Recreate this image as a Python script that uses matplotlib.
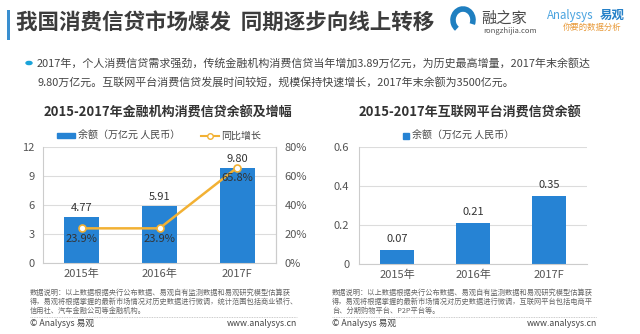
import matplotlib.pyplot as plt
from matplotlib.patches import Rectangle, Arc
from matplotlib.lines import Line2D

plt.rcParams["font.family"] = ["Noto Sans CJK SC", "DejaVu Sans"]

W, H = 640, 334

# data
years = ["2015年", "2016年", "2017F"]
bank_balance = [4.77, 5.91, 9.80]          # 万亿元
bank_growth = [23.9, 23.9, 65.8]           # %
web_balance = [0.07, 0.21, 0.35]           # 万亿元

left_yticks = [0, 3, 6, 9, 12]
right_pct_ticks = [0, 20, 40, 60, 80]
web_yticks = [0, 0.2, 0.4, 0.6]

title = "我国消费信贷市场爆发  同期逐步向线上转移"
bullet_lines = [
    "2017年，个人消费信贷需求强劲，传统金融机构消费信贷当年增加3.89万亿元，为历史最高增量，2017年末余额达",
    "9.80万亿元。互联网平台消费信贷发展时间较短，规模保持快速增长，2017年末余额为3500亿元。",
]
left_title = "2015-2017年金融机构消费信贷余额及增幅"
right_title = "2015-2017年互联网平台消费信贷余额"
note_left = [
    "数据说明：以上数据根据央行公布数据、易观自有监测数据和易观研究模型估算获",
    "得，易观将根据掌握的最新市场情况对历史数据进行微调，统计范围包括商业银行、",
    "信用社、汽车金融公司等金融机构。",
]
note_right = [
    "数据说明：以上数据根据央行公布数据、易观自有监测数据和易观研究模型估算获",
    "得，易观将根据掌握的最新市场情况对历史数据进行微调，互联网平台包括电商平",
    "台、分期购物平台、P2P平台等。",
]

BLUE = "#2683d4"
GOLD = "#f2b134"
GRID = "#dcdcdc"
TXT = "#444444"


def fx(x):
    return x / W


def fy(y):
    return 1 - y / H


fig = plt.figure(figsize=(W / 100, H / 100), dpi=100)
fig.patch.set_facecolor("white")

# header
fig.add_artist(Rectangle((fx(7), fy(40)), 3 / W, 30 / H, transform=fig.transFigure,
                         color="#3a8fd0", lw=0))
fig.text(fx(16), fy(23), title, fontsize=15.5, fontweight="bold", color="#3c3c3c",
         va="center", ha="left")

# logos
fig.add_artist(Arc((fx(463), fy(20)), 20 / W, 22 / H, theta1=-40, theta2=250,
                   transform=fig.transFigure, color="#1f7fc0", lw=4))
fig.text(fx(481), fy(18), "融之家", fontsize=11, color="#4a4a4a", va="center")
fig.text(fx(483), fy(31), "rongzhijia.com", fontsize=5.5, color="#555555", va="center")
fig.text(fx(547), fy(15), "Analysys", fontsize=8.3, color="#4aa3df", style="italic", va="center")
fig.text(fx(600), fy(15), "易观", fontsize=9, color="#2580c8", fontweight="bold", va="center")
fig.text(fx(563), fy(27), "你要的数据分析", fontsize=6, color="#e89a3a", style="italic", va="center")

# bullet
fig.add_artist(plt.Circle((fx(29), fy(63)), 3 / W, transform=fig.transFigure,
                          color="#1aa3d9"))
fig.text(fx(37), fy(63), bullet_lines[0], fontsize=7.9, color=TXT, va="center")
fig.text(fx(37), fy(82), bullet_lines[1], fontsize=7.9, color=TXT, va="center")

# chart titles
fig.text(fx(168), fy(113), left_title, fontsize=9.4, fontweight="bold", color="#333333",
         ha="center", va="center")
fig.text(fx(470), fy(113), right_title, fontsize=9.4, fontweight="bold", color="#333333",
         ha="center", va="center")

# left chart
ax = fig.add_axes([fx(43), fy(263), 233 / W, 116 / H])
x = range(len(years))
ax.bar(x, bank_balance, width=0.45, color=BLUE, zorder=2)
ax.set_xlim(-0.5, 2.5)
ax.set_ylim(0, 12)
ax.set_yticks(left_yticks)
ax.set_xticks(list(x))
ax.set_xticklabels(years)
ax.yaxis.grid(True, color=GRID, lw=0.8, zorder=0)
ax.spines["top"].set_visible(False)
for s in ["left", "bottom", "right"]:
    ax.spines[s].set_color("#cccccc")
ax.tick_params(length=0, labelsize=8, colors="#555555", pad=4)
ax.tick_params(axis="y", pad=6)
for i, v in enumerate(bank_balance):
    ax.text(i, v + 0.4, f"{v:.2f}", ha="center", va="bottom", fontsize=8, color="#333333")

ax2 = ax.twinx()
ax2.plot(list(x), bank_growth, color=GOLD, lw=1.8, marker="o", ms=5,
         markerfacecolor="white", markeredgecolor=GOLD, markeredgewidth=1.2, zorder=3)
ax2.set_ylim(0, 80)
ax2.set_yticks(right_pct_ticks)
ax2.set_yticklabels([f"{t}%" for t in right_pct_ticks])
ax2.tick_params(length=0, labelsize=8, colors="#555555", pad=6)
for s in ["top", "left", "bottom"]:
    ax2.spines[s].set_visible(False)
ax2.spines["right"].set_color("#cccccc")
for i, v in enumerate(bank_growth):
    ax2.text(i, v - 4, f"{v:.1f}%", ha="center", va="top", fontsize=8, color="#333333")

handles = [Rectangle((0, 0), 1, 1, color=BLUE),
           Line2D([], [], color=GOLD, lw=1.5, marker="o", ms=4,
                  markerfacecolor="white", markeredgecolor=GOLD)]
ax.legend(handles, ["余额（万亿元 人民币）", "同比增长"], ncol=2, frameon=False,
          loc="lower center", bbox_to_anchor=(0.5, 1.0), fontsize=7.2,
          handlelength=1.8, handleheight=0.5, columnspacing=2.0, handletextpad=0.3,
          borderaxespad=0.2, labelcolor="#444444")

# right chart
bx = fig.add_axes([fx(359), fy(264), 228 / W, 117 / H])
bx.bar(x, web_balance, width=0.44, color=BLUE, zorder=2)
bx.set_xlim(-0.5, 2.5)
bx.set_ylim(0, 0.6)
bx.set_yticks(web_yticks)
bx.set_yticklabels(["0", "0.2", "0.4", "0.6"])
bx.set_xticks(list(x))
bx.set_xticklabels(years)
bx.yaxis.grid(True, color=GRID, lw=0.8, zorder=0)
for s in ["top", "right"]:
    bx.spines[s].set_visible(False)
for s in ["left", "bottom"]:
    bx.spines[s].set_color("#cccccc")
bx.tick_params(length=0, labelsize=8, colors="#555555", pad=4)
bx.tick_params(axis="y", pad=7)
for i, v in enumerate(web_balance):
    bx.text(i, v + 0.03, f"{v:.2f}", ha="center", va="bottom", fontsize=8, color="#333333")
bx.legend([Line2D([], [], color=BLUE, marker="s", ls="none", ms=4)],
          ["余额（万亿元 人民币）"], frameon=False, loc="lower left",
          bbox_to_anchor=(0.16, 1.0), fontsize=7.2, handlelength=1.0, handletextpad=0.1,
          borderaxespad=0.2, labelcolor="#444444")

# footnotes
for x0, x1, lines in [(30, 297, note_left), (332, 597, note_right)]:
    for k, line in enumerate(lines):
        fig.text(fx(x0), fy(293 + k * 9), line, fontsize=5.2, color="#666666", va="center")
    fig.add_artist(Line2D([fx(x0), fx(x1)], [fy(317), fy(317)], transform=fig.transFigure,
                          color="#bbbbbb", lw=0.6, ls=(0, (1, 1))))
    fig.text(fx(x0), fy(324), "© Analysys 易观", fontsize=6.3, color="#444444", va="center")
    fig.text(fx(x1), fy(324), "www.analysys.cn", fontsize=6.3, color="#444444",
             va="center", ha="right")

fig.savefig("out.png", dpi=100)
